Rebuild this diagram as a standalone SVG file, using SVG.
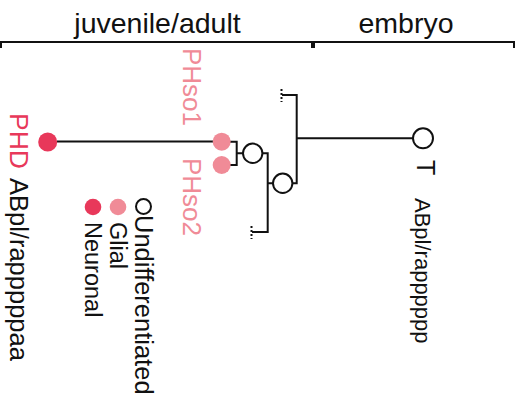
<svg xmlns="http://www.w3.org/2000/svg" width="523" height="403" viewBox="0 0 523 403">
<style>
.ln{fill:none;stroke:#111;stroke-width:2}
.dot{fill:none;stroke:#111;stroke-width:2;stroke-dasharray:2,2}
.und{fill:#fff;stroke:#111;stroke-width:2}
.neu{fill:#e8385a}
.gli{fill:#f08b97}
.t{font-family:"Liberation Sans",Arial,sans-serif;fill:#111}
.tr{font-family:"Liberation Sans",Arial,sans-serif;fill:#e8385a}
.tp{font-family:"Liberation Sans",Arial,sans-serif;fill:#f08b97}
</style>
<rect width="523" height="403" fill="#fff"/>
<g id="brackets">
<text class="t" x="157.5" y="33" font-size="28.5" text-anchor="middle">juvenile/adult</text>
<text class="t" x="406" y="33" font-size="28.5" text-anchor="middle">embryo</text>
<path class="ln" d="M1,48 V42 H312 V48 M314,48 V42 H514 V48"/>
</g>
<g id="connectors">
<path class="ln" d="M57,141.5 H213"/>
<path class="ln" d="M230,141.7 H236.7 V165 H230 M236.7,153.3 H243"/>
<path class="ln" d="M262.4,153.3 H267.7 V232 H252 M267.7,183.3 H273"/>
<path class="ln" d="M292.4,183.3 H296.7 V95 H282 M296.7,138.3 H413"/>
<path class="dot" d="M281.5,89 V102 M251.5,226 V239"/>
</g>
<g id="node-PHD">
<circle class="neu" cx="47.7" cy="142" r="9.5"/>
<text class="tr" font-size="26.5" transform="translate(10,113) rotate(90)">PHD</text>
<text class="t" font-size="25.5" transform="translate(10,178) rotate(90)">ABpl/rapppppaa</text>
</g>
<g id="node-PHso1">
<circle class="gli" cx="221.7" cy="141.7" r="9"/>
<text class="tp" font-size="26" transform="translate(183,48) rotate(90)">PHso1</text>
</g>
<g id="node-PHso2">
<circle class="gli" cx="221.7" cy="165" r="9"/>
<text class="tp" font-size="26" transform="translate(183,158) rotate(90)">PHso2</text>
</g>
<g id="node-u1">
<circle class="und" cx="252.7" cy="153.3" r="9.7"/>
</g>
<g id="node-u2">
<circle class="und" cx="282.7" cy="183.3" r="9.7"/>
</g>
<g id="node-T">
<circle class="und" cx="423" cy="138.3" r="10"/>
<text class="t" font-size="25" transform="translate(417,160) rotate(90)">T</text>
<text class="t" font-size="22" transform="translate(415,198) rotate(90)">ABpl/rapppppp</text>
</g>
<g id="legend">
<circle class="und" cx="143.5" cy="206.5" r="7.5"/>
<text class="t" font-size="25.5" transform="translate(135,215) rotate(90)">Undifferentiated</text>
<circle class="gli" cx="118" cy="207" r="8.3"/>
<text class="t" font-size="23.5" transform="translate(110,222) rotate(90)">Glial</text>
<circle class="neu" cx="93" cy="207" r="8.3"/>
<text class="t" font-size="23.5" transform="translate(85,222) rotate(90)">Neuronal</text>
</g>
</svg>
